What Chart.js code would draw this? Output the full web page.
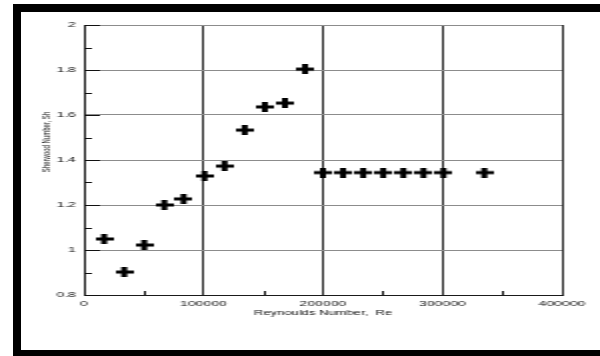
<!DOCTYPE html>
<html>
<head>
<meta charset="utf-8">
<script src="https://cdn.jsdelivr.net/npm/chart.js@4/dist/chart.umd.min.js"></script>
<style>
  html, body { margin: 0; padding: 0; background: #fff; width: 600px; height: 356px; overflow: hidden; }
  /* the plot is drawn at half width and stretched horizontally */
  #wrap { position: absolute; left: 0; top: 0; width: 300px; height: 356px; transform: scaleX(2); transform-origin: 0 0; }
  #frame { position: absolute; left: 13px; top: 4px; width: 640px; height: 338px;
           border-left: 8px solid #000; border-top: 8px solid #000; border-bottom: 8px solid #000;
           pointer-events: none; }
</style>
</head>
<body>
<div id="wrap"><canvas id="c" width="300" height="356"></canvas></div>
<div id="frame"></div>
<script>
// Sherwood number vs Reynolds number
const reynolds = [16800, 33600, 50400, 67200, 83300, 100800, 117600, 134500, 151300, 168100, 185000,
                  200000, 216800, 233600, 250400, 267200, 284000, 300800, 335000];
const sherwood = [1.049, 0.902, 1.022, 1.200, 1.227, 1.329, 1.373, 1.533, 1.636, 1.653, 1.804,
                  1.344, 1.344, 1.344, 1.344, 1.344, 1.344, 1.344, 1.344];

const xMajorTicks = [0, 100000, 200000, 300000, 400000];
const yMajorTicks = [0.8, 1, 1.2, 1.4, 1.6, 1.8, 2];
const xTitle = 'Reynoulds Number,  Re';
const yTitle = 'Sherwood Number, Sh';

const FONT = '"Liberation Sans", Arial, sans-serif';

function isMajor(list, v) {
  return list.findIndex(m => Math.abs(m - v) < 1e-6);
}

// bold plus-sign marker
function plusMark(w, h, t) {
  const c = document.createElement('canvas');
  c.width = w; c.height = h;
  const g = c.getContext('2d');
  g.fillStyle = '#000';
  g.fillRect(0, (h - t) / 2, w, t);
  g.fillRect((w - t) / 2, 0, t, h);
  return c;
}

// inside tick marks and axis titles
const decor = {
  id: 'decor',
  beforeDatasetsDraw(chart) {
    const { ctx, chartArea: a, scales: { x, y } } = chart;
    ctx.save();
    ctx.strokeStyle = '#111';
    ctx.lineWidth = 1;
    ctx.beginPath();
    y.ticks.forEach(t => {
      const py = Math.round(y.getPixelForValue(t.value)) + 0.5;
      const len = isMajor(yMajorTicks, t.value) >= 0 ? 8 : 4;
      ctx.moveTo(a.left, py);
      ctx.lineTo(a.left + len, py);
    });
    x.ticks.forEach(t => {
      if (isMajor(xMajorTicks, t.value) >= 0) return;
      const px = Math.round(x.getPixelForValue(t.value)) + 0.5;
      ctx.moveTo(px, a.bottom);
      ctx.lineTo(px, a.bottom - 4);
    });
    ctx.stroke();
    ctx.restore();
  },
  afterDraw(chart) {
    const { ctx, chartArea: a } = chart;
    ctx.save();
    ctx.fillStyle = '#111';
    ctx.textAlign = 'center';
    ctx.textBaseline = 'middle';
    ctx.font = '6.5px ' + FONT;
    ctx.fillText(xTitle, (a.left + a.right) / 2, a.bottom + 18);
    ctx.translate(a.left - 19, a.top + 117);
    ctx.rotate(-Math.PI / 2);
    ctx.font = '6px ' + FONT;
    ctx.fillText(yTitle, 0, 0);
    ctx.restore();
  }
};

new Chart(document.getElementById('c'), {
  type: 'scatter',
  data: {
    datasets: [{
      data: reynolds.map((r, i) => ({ x: r, y: sherwood[i] })),
      pointStyle: plusMark(9, 10, 3),
      pointRadius: 5,
      showLine: false
    }]
  },
  options: {
    responsive: false,
    animation: false,
    devicePixelRatio: 1,
    layout: { padding: { left: 0, right: 19, top: 25, bottom: 0 } },
    plugins: { legend: { display: false }, tooltip: { enabled: false } },
    scales: {
      x: {
        type: 'linear',
        min: 0, max: 400000,
        afterFit(s) { s.height = 61; },
        ticks: {
          stepSize: 50000,
          padding: 5,
          color: '#111',
          font: { family: FONT, size: 7 },
          maxRotation: 0,
          autoSkip: false,
          callback(v) { const i = isMajor(xMajorTicks, v); return i >= 0 ? String(xMajorTicks[i]) : ''; }
        },
        grid: {
          drawTicks: false,
          lineWidth: 1,
          color(c) { return isMajor(xMajorTicks, c.tick.value) >= 0 ? '#2a2a2a' : 'rgba(0,0,0,0)'; }
        },
        border: { display: true, color: '#1a1a1a', width: 1 }
      },
      y: {
        type: 'linear',
        min: 0.8, max: 2,
        afterFit(s) { s.width = 42; },
        ticks: {
          stepSize: 0.1,
          padding: 4,
          color: '#111',
          font: { family: FONT, size: 7 },
          autoSkip: false,
          callback(v) { const i = isMajor(yMajorTicks, v); return i >= 0 ? String(yMajorTicks[i]) : ''; }
        },
        grid: {
          drawTicks: false,
          lineWidth: 1,
          color(c) { return isMajor(yMajorTicks, c.tick.value) >= 0 ? '#8c8c8c' : 'rgba(0,0,0,0)'; }
        },
        border: { display: true, color: '#1a1a1a', width: 1 }
      }
    }
  },
  plugins: [decor]
});
</script>
</body>
</html>
